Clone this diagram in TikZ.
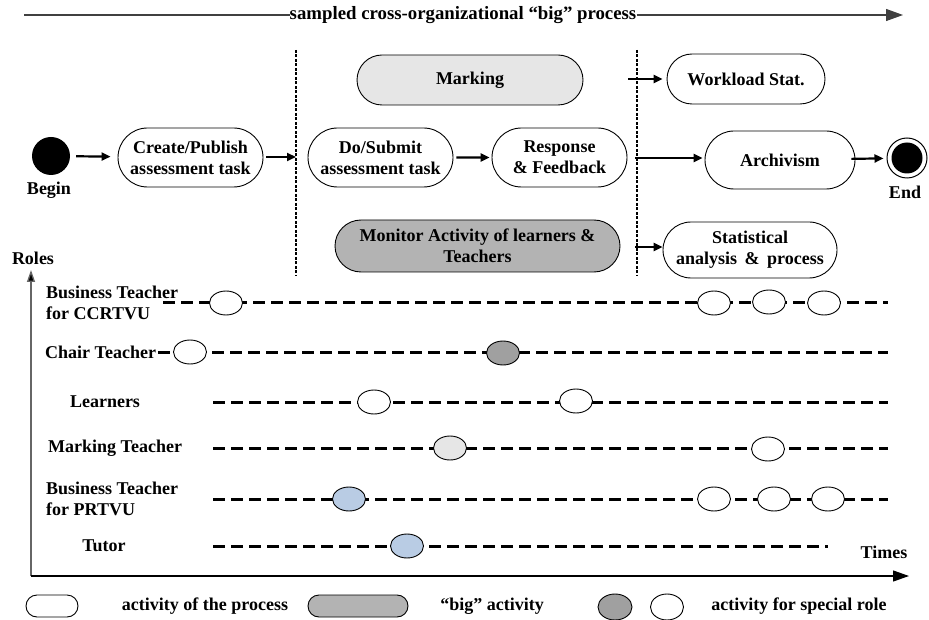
\documentclass[tikz,border=0pt]{standalone}
\usepackage{fontspec}
\setmainfont{Liberation Serif}
\usetikzlibrary{arrows.meta,shapes.misc,shapes.geometric}
\definecolor{lightfill}{HTML}{E6E6E6}
\definecolor{bigfill}{HTML}{B3B3B3}
\definecolor{rolefill}{HTML}{A0A0A0}
\definecolor{bluefill}{HTML}{B9CCE4}
\tikzset{
  every node/.style={font=\fontsize{18}{21}\selectfont\bfseries, inner sep=0pt},
  act/.style={draw, rounded rectangle, line width=0.9pt, fill=white, align=center},
  sep/.style={line width=1.2pt, dash pattern=on 3pt off 1.5pt},
  flow/.style={line width=2.2pt, -{Triangle[length=9pt,width=8pt]}},
  life/.style={line width=3pt, dash pattern=on 12pt off 6pt},
  evt/.style={draw, ellipse, line width=0.9pt, minimum width=33pt, minimum height=24pt, fill=white},
  role/.style={align=left, anchor=west},
  axis/.style={line width=1.2pt, -{Triangle[length=16pt,width=11pt]}}
}
\begin{document}
\begin{tikzpicture}[x=1pt,y=-1pt]
\useasboundingbox (0,0) rectangle (929,620);

% overall process arrow with its title
\node[font=\fontsize{18.8}{21}\selectfont\bfseries] (title) at (463,15) {sampled cross-organizational “big” process};
\coordinate (tstart) at (24,15);
\coordinate (tend) at (903,15);
\draw[line width=1.1pt, draw=black!75] (tstart) -- (title.west);
\draw[line width=1.1pt, draw=black!75, -{Triangle[length=17pt,width=12pt]}] (title.east) -- (tend);

% phase separators
\coordinate (s1top) at (296,50);
\coordinate (s1bot) at (296,276);
\coordinate (s2top) at (637,50);
\coordinate (s2bot) at (637,276);
\draw[sep] (s1top) -- (s1bot);
\draw[sep] (s2top) -- (s2bot);

% start and end
\node[circle, fill=black, minimum size=38pt] (begin) at (51,156) {};
\node (beginlbl) at (49,190) {Begin};
\node[circle, draw, line width=1pt, minimum size=40pt] (end) at (907,158) {};
\node[circle, fill=black, minimum size=31pt] at (end) {};
\node (endlbl) at (905,192) {End};

% activities
\node[act, minimum width=145pt, minimum height=59pt] (create) at (190.5,157.5) {Create/Publish\\assessment task};
\node[act, minimum width=145pt, minimum height=59pt] (dosub) at (380.5,157.5) {Do/Submit\\assessment task};
\node[act, minimum width=135pt, minimum height=59pt] (resp) at (559.5,157.5) {Response\\\& Feedback};
\node[act, fill=lightfill, minimum width=226pt, minimum height=50pt] (marking) at (470,80) {Marking};
\node[act, fill=bigfill, minimum width=285pt, minimum height=52pt] (monitor) at (477.5,246) {Monitor Activity of learners \&\\Teachers};
\node[act, minimum width=158pt, minimum height=50pt] (workload) at (746,79) {Workload Stat.};
\node[act, minimum width=150pt, minimum height=58pt] (archiv) at (780,160) {Archivism};
\node[act, minimum width=174pt, minimum height=56pt] (stat) at (750,250) {Statistical\\analysis \,\& \,process};

% flow arrows
\coordinate (j1) at (296,157);
\coordinate (w0) at (628,79);
\coordinate (a0) at (635,158);
\coordinate (st0) at (635,247);
\draw[flow, shorten <=6pt, shorten >=7pt] (begin) -- (create);
\draw[flow, shorten <=3pt] (create.east |- j1) -- (j1);
\draw[flow, shorten <=3pt, shorten >=2pt] (dosub) -- (resp);
\draw[flow, shorten >=4pt] (w0) -- (workload.west |- w0);
\draw[flow, shorten >=2pt] (a0) -- (archiv.west |- a0);
\draw[flow] (st0) -- (stat.west |- st0);
\draw[flow, shorten <=-4pt, shorten >=3pt] (archiv) -- (end);

% role and time axes
\coordinate (origin) at (31,576);
\coordinate (rtop) at (31,270);
\coordinate (ttip) at (909,576);
\draw[line width=1.3pt, draw=black!60, -{Triangle[length=12pt,width=8pt,fill=black]}] (origin) -- (rtop);
\draw[axis] (origin) -- (ttip);
\node (roles) at (33,258) {Roles};
\node (times) at (884,552) {Times};

% role labels
\node[role] (r1) at (46,303) {Business Teacher\\for CCRTVU};
\node[role] (r2) at (45,352) {Chair Teacher};
\node (r3) at (105,402) {Learners};
\node[role] (r4) at (48,448) {Marking Teacher};
\node[role] (r5) at (46,499) {Business Teacher\\for PRTVU};
\node (r6) at (104,546) {Tutor};

% lifelines
\coordinate (l1a) at (163,303); \coordinate (l1b) at (888,303);
\coordinate (l2a) at (158,352); \coordinate (l2b) at (888,352);
\coordinate (l3a) at (213,402); \coordinate (l3b) at (888,402);
\coordinate (l4a) at (213,448); \coordinate (l4b) at (888,448);
\coordinate (l5a) at (213,499); \coordinate (l5b) at (888,499);
\coordinate (l6a) at (213,546); \coordinate (l6b) at (828,546);
\draw[life] (l1a) -- (l1b);
\draw[life] (l2a) -- (l2b);
\draw[life] (l3a) -- (l3b);
\draw[life] (l4a) -- (l4b);
\draw[life] (l5a) -- (l5b);
\draw[life] (l6a) -- (l6b);

% role activities
\node[evt] (e11) at (226,303) {};
\node[evt] (e12) at (714,303) {};
\node[evt] (e13) at (769,302) {};
\node[evt] (e14) at (824,303) {};
\node[evt] (e21) at (190,352) {};
\node[evt, fill=rolefill] (e22) at (503,353) {};
\node[evt] (e31) at (374,402) {};
\node[evt] (e32) at (576,401) {};
\node[evt, fill=lightfill] (e41) at (450,448) {};
\node[evt] (e42) at (768,449) {};
\node[evt, fill=bluefill] (e51) at (349,499) {};
\node[evt] (e52) at (714,499) {};
\node[evt] (e53) at (774,499) {};
\node[evt] (e54) at (828,499) {};
\node[evt, fill=bluefill] (e61) at (407,546) {};

% legend
\node[act, minimum width=52pt, minimum height=22pt] (k1) at (52,606) {};
\node (k1t) at (205,606) {activity of the process};
\node[act, fill=bigfill, minimum width=100pt, minimum height=22pt] (k2) at (358,606) {};
\node (k2t) at (492,606) {“big” activity};
\node[evt, fill=rolefill, minimum width=34pt, minimum height=26pt] (k3) at (615,607) {};
\node[evt, minimum width=33pt, minimum height=26pt] (k4) at (667,607) {};
\node (k4t) at (799,606) {activity for special role};
\end{tikzpicture}
\end{document}
